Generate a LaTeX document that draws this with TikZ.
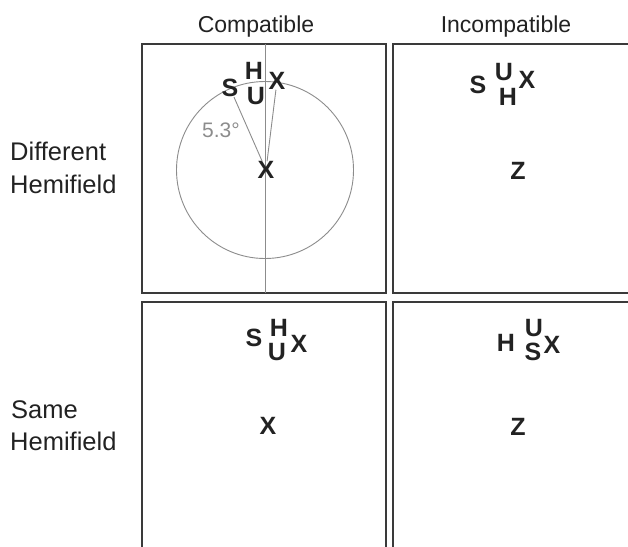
\documentclass[tikz,border=0pt]{standalone}
\usepackage{fontspec}
\setmainfont{Liberation Sans}
\definecolor{panelc}{HTML}{3A3A3A}
\definecolor{guidec}{HTML}{8C8C8C}
\definecolor{inkc}{HTML}{222222}
\begin{document}
\begin{tikzpicture}[x=1pt,y=-1pt,
  panel/.style={draw=panelc, line width=1.7pt},
  guide/.style={draw=guidec, line width=0.9pt},
  hdr/.style={font=\fontsize{23}{28}\selectfont, text=inkc, inner sep=0pt, anchor=base},
  lbl/.style={font=\fontsize{25.5}{30}\selectfont, text=inkc, inner sep=0pt, anchor=base west},
  ltr/.style={font=\fontsize{25}{29}\selectfont\bfseries, text=inkc, inner sep=0pt},
  ang/.style={font=\fontsize{21}{25}\selectfont, text=guidec, inner sep=0pt}]
\useasboundingbox (0,0) rectangle (628,546);
\clip (0,0) rectangle (628,546);
% panels
\draw[panel] (142,44) rectangle (386,293);
\draw[panel] (393,44) rectangle (660,293);
\draw[panel] (142,302) rectangle (386,580);
\draw[panel] (393,302) rectangle (660,580);
% headers and row labels
\node[hdr] (hc) at (256,32) {Compatible};
\node[hdr] (hi) at (506,32) {Incompatible};
\node[lbl] (d1) at (10,160) {Different};
\node[lbl] (d2) at (10,193) {Hemifield};
\node[lbl] (s1) at (11,418) {Same};
\node[lbl] (s2) at (10,450) {Hemifield};
% top-left panel: guide line and circle
\coordinate (vtop) at (265,44);
\coordinate (vbot) at (265,293);
\draw[guide] (vtop) -- (vbot);
\coordinate (cc) at (265,170);
\draw[guide] (cc) circle[radius=88.5];
\node[ltr] (tlC) at (266,170) {X};
\node[ltr] (tlS) at (230,88) {S};
\node[ltr] (tlH) at (254,71) {H};
\node[ltr] (tlU) at (256,96) {U};
\node[ltr] (tlX) at (277,81) {X};
\draw[guide] (tlC) -- (tlS);
\draw[guide] (tlC) -- (tlX);
\node[ang] (tlA) at (221,130) {5.3°};
% top-right panel
\node[ltr] (trS) at (478,85) {S};
\node[ltr] (trU) at (504,72) {U};
\node[ltr] (trH) at (508,97) {H};
\node[ltr] (trX) at (527,80) {X};
\node[ltr] (trZ) at (518,171) {Z};
% bottom-left panel
\node[ltr] (blS) at (254,338) {S};
\node[ltr] (blH) at (279,328) {H};
\node[ltr] (blU) at (277,352) {U};
\node[ltr] (blX) at (299,344) {X};
\node[ltr] (blC) at (268,426) {X};
% bottom-right panel
\node[ltr] (brH) at (506,343) {H};
\node[ltr] (brU) at (534,328) {U};
\node[ltr] (brS) at (533,352) {S};
\node[ltr] (brX) at (552,345) {X};
\node[ltr] (brZ) at (518,427) {Z};
\end{tikzpicture}
\end{document}
